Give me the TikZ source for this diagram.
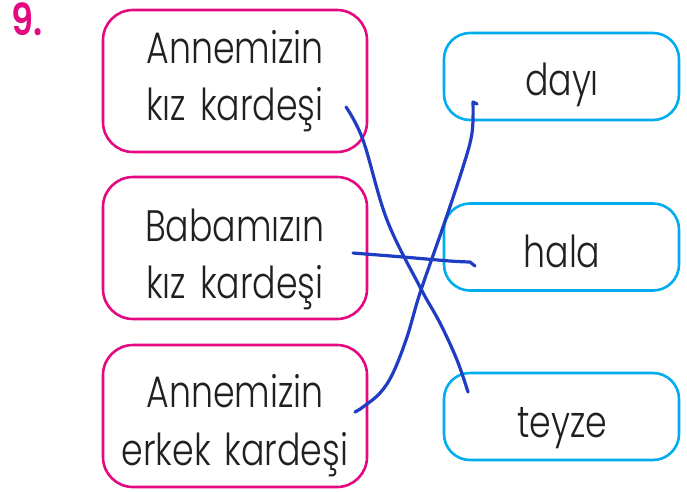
\documentclass[tikz,border=0pt]{standalone}
\usepackage{fontspec}
\setmainfont{Poppins}[UprightFont=* Light, BoldFont=* SemiBold]
\definecolor{magentaP}{HTML}{E5097F}
\definecolor{cyanB}{HTML}{00AEEF}
\definecolor{inkB}{HTML}{1E3CC4}
\definecolor{textK}{HTML}{231F20}
\newcommand{\narrow}[1]{\scalebox{0.79}[1]{#1}}
\tikzset{
  pinkbox/.style={draw=magentaP, line width=2.6pt, rounded corners=30pt, minimum width=264pt, minimum height=142pt, inner sep=0pt},
  cyanbox/.style={draw=cyanB, line width=2.6pt, rounded corners=26pt, minimum width=235pt, minimum height=87pt, inner sep=0pt},
  word/.style={anchor=base, inner sep=0pt, text=textK, font=\fontsize{44}{52}\selectfont},
  ink/.style={draw=inkB, line width=3.2pt, line cap=round, line join=round}
}
\begin{document}
\begin{tikzpicture}[x=1pt,y=-1pt]
\useasboundingbox[fill=white] (0,0) rectangle (687,491);
% number
\node[anchor=base west, inner sep=0pt, text=magentaP, font=\fontsize{44}{52}\selectfont\bfseries] (num) at (11,35) {\scalebox{0.8}[1]{9.}};
% left boxes
\node[pinkbox] (l1) at (235,81) {};
\node[pinkbox] (l2) at (235,248) {};
\node[pinkbox] (l3) at (235,416) {};
\node[word] (l1a) at (235,63) {\narrow{Annemizin}};
\node[word] (l1b) at (235,120) {\narrow{kız\hspace{0.4em}kardeşi}};
\node[word] (l2a) at (235,241) {\narrow{Babamızın}};
\node[word] (l2b) at (235,298) {\narrow{kız\hspace{0.4em}kardeşi}};
\node[word] (l3a) at (235,407) {\narrow{Annemizin}};
\node[word] (l3b) at (235,465) {\narrow{erkek\hspace{0.4em}kardeşi}};
% right boxes
\node[cyanbox] (r1) at (561.5,76.5) {};
\node[cyanbox] (r2) at (561.5,247) {};
\node[cyanbox] (r3) at (561.5,416.5) {};
\node[word] (r1a) at (562,95) {\narrow{dayı}};
\node[word] (r2a) at (562,267) {\narrow{hala}};
\node[word] (r3a) at (562,437) {\narrow{teyze}};
% hand-drawn matching lines
\draw[ink] plot[smooth, tension=0.6] coordinates {(346,107) (363,140) (387,220) (420,287) (440,323) (457,360) (468,392)};
\draw[ink] plot[smooth, tension=0.6] coordinates {(355,412) (363,407) (380,393) (393,373) (407,337) (420,293) (443,227) (463,167) (472,133) (473,102)} -- (477,104);
\draw[ink] plot[smooth, tension=0.6] coordinates {(353,253) (403,257) (450,261) (470,262)} -- (475,266);
\end{tikzpicture}
\end{document}
